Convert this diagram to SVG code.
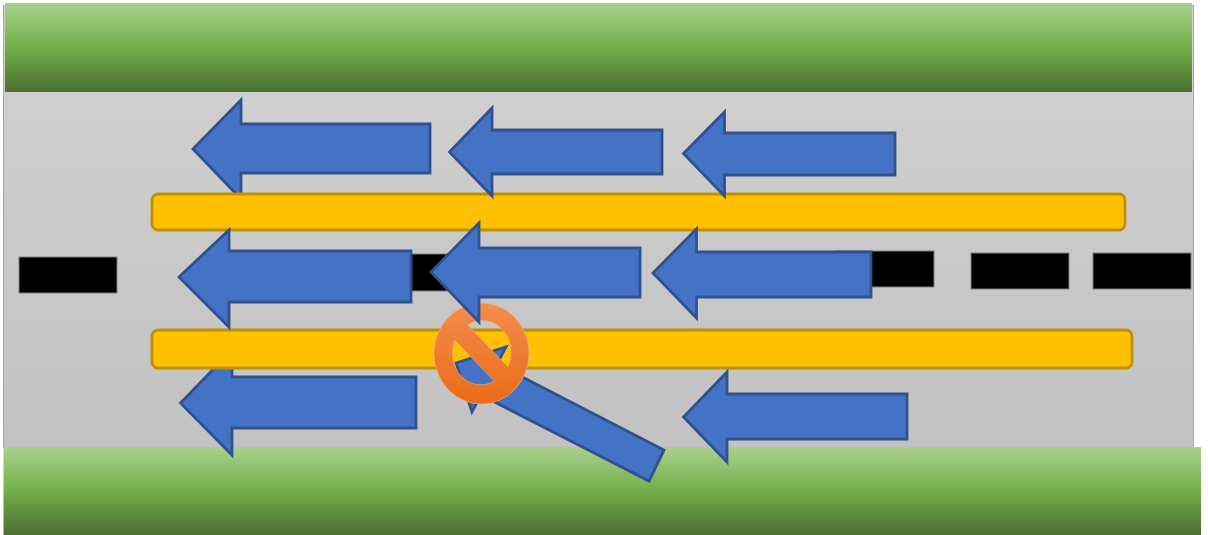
<svg xmlns="http://www.w3.org/2000/svg" width="1208" height="535" viewBox="0 0 1208 535">
<style>
.arrow{fill:#4472c4;stroke:#2f528f;stroke-width:2.8;stroke-linejoin:miter;stroke-miterlimit:10}
.dash{fill:#000;stroke:#7f7f7f;stroke-width:1}
.bar{fill:#ffc000;stroke:#bf9000;stroke-width:2.8}
.grass{fill:url(#grass)}
</style>
<defs>
<linearGradient id="grass" x1="0" y1="0" x2="0" y2="1">
<stop offset="0" stop-color="#a9d18e"/><stop offset="0.5" stop-color="#72af49"/><stop offset="1" stop-color="#4b6e30"/>
</linearGradient>
<linearGradient id="road" x1="0" y1="0" x2="0" y2="1">
<stop offset="0" stop-color="#d2d2d2"/><stop offset="1" stop-color="#c2c2c2"/>
</linearGradient>
<linearGradient id="ban" x1="0" y1="0" x2="0" y2="1">
<stop offset="0" stop-color="#f58c4d"/><stop offset="1" stop-color="#e96c17"/>
</linearGradient>
</defs>
<g id="road-surface"><rect x="3.5" y="5.5" width="1190" height="442" fill="url(#road)" stroke="#a6a6a6" stroke-width="1"/></g>
<g id="grass-top"><rect class="grass" x="5" y="3" width="1187" height="89"/></g>
<g id="lane-dashes">
<rect class="dash" x="19" y="257" width="98" height="36"/>
<rect class="dash" x="353" y="254" width="98" height="37"/>
<rect class="dash" x="836" y="251" width="98" height="36"/>
<rect class="dash" x="971" y="253" width="98" height="36"/>
<rect class="dash" x="1093" y="253" width="98" height="36"/>
</g>
<g id="grass-bottom"><rect class="grass" x="3.500" y="447" width="1197.500" height="88"/></g>
<g id="arrow-top-left"><polygon class="arrow" points="193,149 241,100 241,124 430,124 430,173 241,173 241,199"/></g>
<g id="barrier-top"><rect class="bar" x="152" y="194" width="973" height="36" rx="6"/></g>
<g id="arrow-top-middle"><polygon class="arrow" points="449.500,152 492,108 492,130 662,130 662,174 492,174 492,196"/></g>
<g id="arrow-top-right"><polygon class="arrow" points="683.500,153.500 724.500,112 724.500,133 895,133 895,175 724.500,175 724.500,196"/></g>
<g id="arrow-lower-left"><polygon class="arrow" points="180.500,403 232,350 232,377 416,377 416,428 232,428 232,455"/></g>
<g id="barrier-bottom"><rect class="bar" x="152" y="330" width="980" height="38" rx="6"/></g>
<g id="arrow-lower-right"><polygon class="arrow" points="683.500,417 727,372 727,394 907,394 907,439 727,439 727,462"/></g>
<g id="arrow-turning"><polygon class="arrow" points="456,363 506,347 497,364 664,450 649,481 481,395 472,412"/></g>
<g id="no-entry-sign"><path fill="url(#ban)" fill-rule="evenodd" stroke="#f4b183" stroke-width="1" stroke-opacity="0.6" d="M434,353.500 A47.500,50.500 0 1 1 529,353.500 A47.500,50.500 0 1 1 434,353.500 Z M468,325 L508,367 A28.500,32 0 0 0 468,325 Z M494.300,381 L454.700,340 A28.500,32 0 0 0 494.300,381 Z"/></g>
<g id="arrow-middle-left"><polygon class="arrow" points="179,277 229,230 229,251 411,251 411,302 229,302 229,327"/></g>
<g id="arrow-middle-center"><polygon class="arrow" points="431,272 479,223 479,248 640,248 640,297 479,297 479,322"/></g>
<g id="arrow-middle-right"><polygon class="arrow" points="653,273 696.500,229 696.500,252 871,252 871,297 696.500,297 696.500,318"/></g>
</svg>
